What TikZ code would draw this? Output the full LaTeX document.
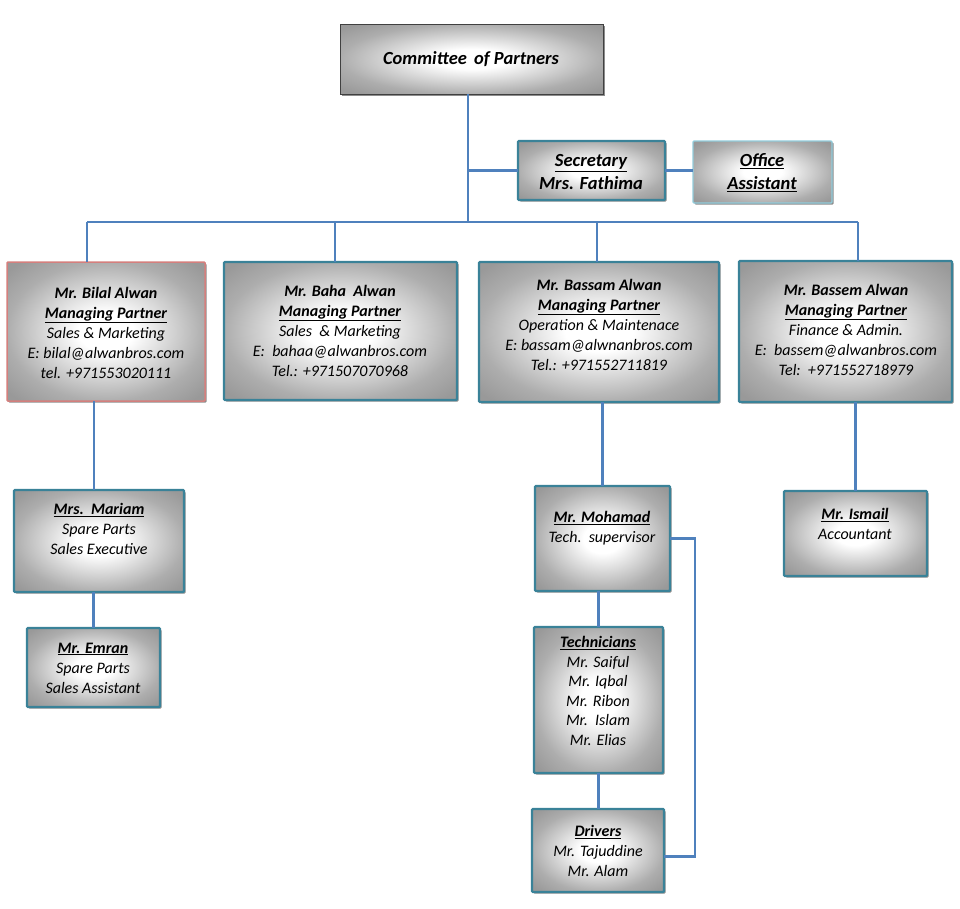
\documentclass[tikz,border=0pt]{standalone}
\usepackage{fontspec}
\setmainfont{Carlito}
\usetikzlibrary{shadows}
\definecolor{tealb}{HTML}{3A8298}
\definecolor{connc}{HTML}{4F81BD}
\definecolor{pinkb}{HTML}{D47F7D}
\definecolor{lightb}{HTML}{92CDDC}
\pgfdeclareradialshading{boxshade}{\pgfpoint{0bp}{0bp}}{color(0bp)=(white); color(7bp)=(white); color(25bp)=(black!32); color(33bp)=(black!40); color(50bp)=(black!40)}
\tikzset{
  box/.style={draw=tealb, line width=2.4pt, shading=boxshade, rounded corners=1pt,
    drop shadow={shadow xshift=1.5pt, shadow yshift=-1.5pt, opacity=0.45, fill=black},
    anchor=north west, inner sep=0pt, outer sep=0pt},
  txt/.style={align=center, font=\fontsize{16}{20}\selectfont\itshape, inner sep=0pt},
  bigtxt/.style={align=center, font=\fontsize{18.5}{23}\selectfont\bfseries\itshape, inner sep=0pt},
  conn/.style={draw=connc, line width=2.4pt},
}
\newcommand{\hd}[1]{\textbf{#1}}
\newcommand{\uh}[1]{\textbf{\underline{#1}}}
\begin{document}
\begin{tikzpicture}[x=1pt,y=-1pt]
\useasboundingbox (0,0) rectangle (960,908);
% boxes
\node[box, draw=black!75, line width=1pt, rounded corners=0pt, minimum width=263pt, minimum height=70pt] (committee) at (340,24) {};
\node[box, minimum width=147pt, minimum height=59pt] (secretary) at (518,141) {};
\node[box, draw=lightb, line width=1.2pt, minimum width=139pt, minimum height=62pt] (office) at (693,141) {};
\node[box, draw=pinkb, line width=1.5pt, minimum width=198pt, minimum height=139pt] (bilal) at (7,262) {};
\node[box, minimum width=233pt, minimum height=138pt] (baha) at (224,262) {};
\node[box, minimum width=240pt, minimum height=140pt] (bassam) at (479,262) {};
\node[box, minimum width=213pt, minimum height=141pt] (bassem) at (739,261) {};
\node[box, minimum width=170pt, minimum height=102pt] (mariam) at (14,490) {};
\node[box, minimum width=133pt, minimum height=79pt] (emran) at (27,628) {};
\node[box, minimum width=135pt, minimum height=105pt] (mohamad) at (535,486) {};
\node[box, minimum width=129pt, minimum height=146pt] (tech) at (534,627) {};
\node[box, minimum width=132pt, minimum height=83pt] (drivers) at (532,809) {};
\node[box, minimum width=143pt, minimum height=85pt] (ismail) at (784,491) {};
% texts
\node[bigtxt] (committeet) at (471,59) {Committee\ \,of Partners};
\node[bigtxt] (secretaryt) at (591,172) {\underline{Secretary}\\Mrs. Fathima};
\node[bigtxt] (officet) at (762,173) {\underline{Office}\\\underline{Assistant}};
\node[txt] (bilalt) at (106,333) {\hd{Mr. Bilal Alwan}\\\uh{Managing Partner}\\Sales \& Marketing\\E: bilal@alwanbros.com\\tel. +971553020111};
\node[txt] (bahat) at (340,331) {\hd{Mr. Baha\ \ Alwan}\\\uh{Managing Partner}\\Sales\ \ \& Marketing\\E:\ \ bahaa@alwanbros.com\\Tel.: +971507070968};
\node[txt] (bassamt) at (599,325) {\hd{Mr. Bassam Alwan}\\\uh{Managing Partner}\\Operation \& Maintenace\\E: bassam@alwnanbros.com\\Tel.: +971552711819};
\node[txt] (bassemt) at (846,330) {\hd{Mr. Bassem Alwan}\\\uh{Managing Partner}\\Finance \& Admin.\\E:\ \ bassem@alwanbros.com\\Tel:\ \ +971552718979};
\node[txt] (mariamt) at (99,529) {\uh{Mrs.\ \ Mariam}\\Spare Parts\\Sales Executive};
\node[txt] (emrant) at (93,668) {\uh{Mr. Emran}\\Spare Parts\\Sales Assistant};
\node[txt] (mohamadt) at (602,528) {\uh{Mr. Mohamad}\\Tech.\ \ supervisor};
\node[txt, font=\fontsize{16}{19.5}\selectfont\itshape] (techt) at (598,691) {\uh{Technicians}\\Mr. Saiful\\Mr. Iqbal\\Mr. Ribon\\Mr.\ \ Islam\\Mr. Elias};
\node[txt] (driverst) at (598,851) {\uh{Drivers}\\Mr. Tajuddine\\Mr. Alam};
\node[txt] (ismailt) at (855,524) {\uh{Mr. Ismail}\\Accountant};
% connectors
\coordinate (bus) at (468,222);
\coordinate (busL) at (87,222);
\coordinate (busR) at (858,222);
\coordinate (dB) at (335,222);
\coordinate (dS) at (597,222);
\coordinate (k1) at (94,0);
\coordinate (el) at (695,0);
\coordinate (drv) at ([yshift=-6pt]drivers.east);
\draw[conn] (bus |- committee.south) -- (bus);
\draw[conn] (bus |- secretary.west) -- (secretary.west);
\draw[conn] (secretary.east) -- (secretary.east -| office.west);
\draw[conn] (busL) -- (busR);
\draw[conn] (busL) -- (busL |- bilal.north);
\draw[conn] (dB) -- (dB |- baha.north);
\draw[conn] (dS) -- (dS |- bassam.north);
\draw[conn] (busR) -- (busR |- bassem.north);
\draw[conn] (k1 |- bilal.south) -- (k1 |- mariam.north);
\draw[conn] (emran.north |- mariam.south) -- (emran.north);
\draw[conn] (mohamad.north |- bassam.south) -- (mohamad.north);
\draw[conn] (tech.north |- mohamad.south) -- (tech.north);
\draw[conn] (tech.south) -- (tech.south |- drivers.north);
\draw[conn] (mohamad.east) -- (mohamad.east -| el) -- (el |- drv) -- (drv);
\draw[conn] (ismail.north |- bassem.south) -- (ismail.north);
\end{tikzpicture}
\end{document}
